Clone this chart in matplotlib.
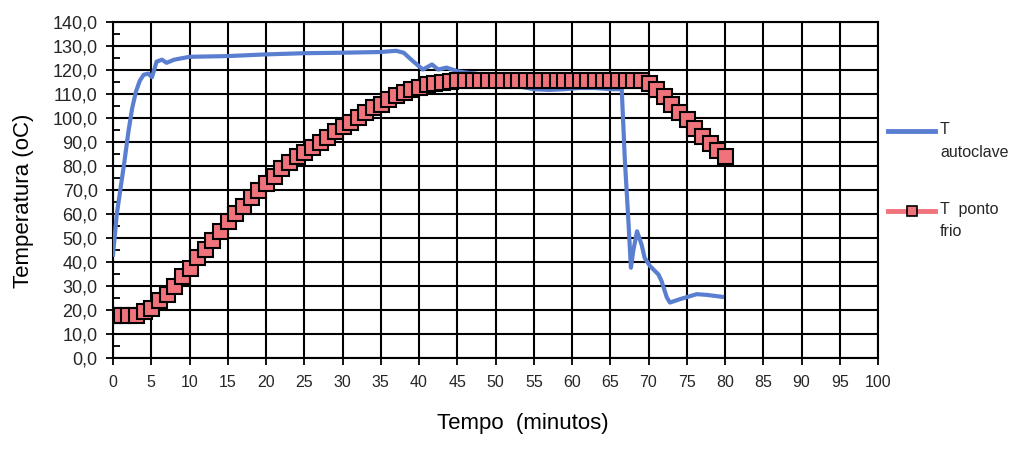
import numpy as np
import matplotlib.pyplot as plt
import matplotlib.ticker as ticker
from matplotlib.lines import Line2D

plt.rcParams['font.family'] = ['Liberation Sans', 'DejaVu Sans']
plt.rcParams['text.color'] = '#262626'

# T autoclave (leitura da curva)
tempo_autoclave = [0, 0.5, 1, 1.5, 2, 2.5, 3, 3.5, 4, 4.6, 5.1, 5.7, 6.4, 7, 8, 10, 15, 20, 25, 30,
                   35, 37, 38, 39.2, 40.5, 41.7, 42.5, 43.6, 45, 46.2, 47.5, 50, 52.8, 55, 57, 59,
                   61, 63, 65, 66.5, 66.9, 67.4, 67.7, 68, 68.5, 69.1, 69.5, 70.2, 71.3, 71.7, 72.4,
                   72.8, 74.1, 76.3, 77.6, 79.6]
temp_autoclave = [43, 60, 71, 82, 94, 104, 111, 115.5, 118, 118.5, 117, 123.5, 124.3, 123, 124.3, 125.5,
                  125.8, 126.5, 127, 127.2, 127.5, 128, 127.2, 123.7, 120.2, 122.3, 120.2, 121, 119.5,
                  118.9, 118.5, 116, 113.3, 112, 111.7, 112, 112.5, 112.5, 112, 112, 83, 55.5, 37.6,
                  44.5, 52.8, 47.2, 41.7, 38.3, 34.8, 32.1, 25.2, 23.1, 24.5, 26.6, 26.3, 25.5]

# T ponto frio (um ponto por minuto)
tempo_frio = list(range(0, 81))
temp_frio = [18, 18, 18, 18, 19.5, 21, 24, 26.7, 30, 34, 37.5, 42, 45.5, 49, 53, 57, 60.5, 63.5, 67,
             70, 73, 76, 79, 81.5, 84, 86, 88, 90, 92, 94.5, 96.5, 98.5, 100.5, 102.5, 104.5, 106,
             108, 109.5, 111, 112, 113, 114, 114.5, 115, 115.5, 116, 116, 116, 116, 116, 116, 116,
             116, 116, 116, 116, 116, 116, 116, 116, 116, 116, 116, 116, 116, 116, 116, 116, 116,
             116, 114.5, 112, 109, 106, 102.5, 99.5, 96, 92.5, 89.5, 86.5, 84]

fig = plt.figure(figsize=(10.24, 4.51), dpi=100)
ax = fig.add_axes([113/1024, 1 - 358/451, (878 - 113)/1024, (358 - 22)/451])

l1, = ax.plot(tempo_autoclave, temp_autoclave, color='#5B7FD0', lw=3, zorder=3)
l2, = ax.plot(tempo_frio, temp_frio, color='#F0737C', lw=3, marker='s', markersize=10.8,
              markerfacecolor='#F0737C', markeredgecolor='black', markeredgewidth=1.5, zorder=4)

# eixos
ax.set_xlim(0, 100)
ax.set_ylim(0, 140)
ax.set_xticks(np.arange(0, 101, 5))
ax.set_yticks(np.arange(0, 141, 10))
ax.yaxis.set_minor_locator(ticker.MultipleLocator(5))
ax.yaxis.set_major_formatter(ticker.FuncFormatter(lambda v, pos: f'{v:.1f}'.replace('.', ',')))
ax.tick_params(axis='x', which='major', direction='out', length=5, width=1.3, labelsize=11.5, pad=7,
               labelcolor='#262626')
ax.tick_params(axis='y', which='major', direction='out', length=5, width=1.3, labelsize=13, pad=6,
               labelcolor='#262626')
ax.tick_params(axis='y', which='minor', direction='in', length=5, width=1.3)
ax.grid(True, which='major', color='black', lw=1.5)
ax.set_axisbelow(True)
for s in ax.spines.values():
    s.set_color('black')
    s.set_linewidth(1.5)

ax.set_xlabel('Tempo  (minutos)', fontsize=16)
ax.xaxis.set_label_coords((523 - 113)/765, -(413 - 358)/336)
ax.set_ylabel('Temperatura (oC)', fontsize=16)
ax.yaxis.set_label_coords(-(113 - 34)/765, (358 - 201)/336)

# legenda
def fx(px):
    return px/1024

def fy(py):
    return 1 - py/451

fig.add_artist(Line2D([fx(888), fx(935)], [fy(131), fy(131)], color=l1.get_color(), lw=3.5))
fig.text(fx(940), fy(122), 'T\nautoclave', fontsize=11.5, va='top', ha='left', linespacing=1.7)
fig.add_artist(Line2D([fx(888), fx(935)], [fy(211), fy(211)], color=l2.get_color(), lw=3.5))
fig.add_artist(Line2D([fx(911.5)], [fy(211)], marker='s', markersize=7, markerfacecolor=l2.get_color(),
                      markeredgecolor='black', markeredgewidth=1.2, linestyle='none'))
fig.text(fx(940), fy(202), 'T  ponto\nfrio', fontsize=11.5, va='top', ha='left', linespacing=1.6)

fig.savefig('out.png', dpi=100)
